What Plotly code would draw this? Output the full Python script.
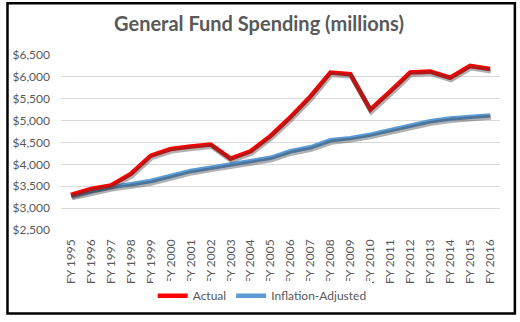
import plotly.graph_objects as go

years = [f"FY {y}" for y in range(1995, 2017)]
actual = [3300, 3440, 3520, 3780, 4200, 4350, 4410, 4455, 4130, 4300, 4650,
          5080, 5550, 6100, 6060, 5250, 5670, 6100, 6120, 5980, 6250, 6180]
inflation = [3280, 3380, 3480, 3545, 3620, 3735, 3850, 3925, 4000, 4070, 4150,
             4300, 4390, 4550, 4600, 4680, 4780, 4900, 4985, 5050, 5075, 5120]
y_ticks = [2500, 3000, 3500, 4000, 4500, 5000, 5500, 6000, 6500]
y_labels = [f"${v:,}" for v in y_ticks]

W, H = 520, 322
L, R, T, B = 57, 20, 55, 91
pw, ph = W - L - R, H - T - B
yr = [2500, 6500]
dy = 2 * (yr[1] - yr[0]) / ph      # 2px shadow offset down
dx = 1.0 * len(years) / pw         # 1px shadow offset right

fig = go.Figure()
shadow = dict(color="rgba(60,60,60,0.4)", width=5)
fig.add_trace(go.Scatter(x=years, y=inflation, mode="lines", line=shadow,
                         xaxis="x2", yaxis="y2", showlegend=False, hoverinfo="skip"))
fig.add_trace(go.Scatter(x=years, y=actual, mode="lines", line=shadow,
                         xaxis="x2", yaxis="y2", showlegend=False, hoverinfo="skip"))
fig.add_trace(go.Scatter(x=years, y=inflation, mode="lines", name="Inflation-Adjusted",
                         line=dict(color="#5B9BD5", width=4.5), legendrank=2))
fig.add_trace(go.Scatter(x=years, y=actual, mode="lines", name="Actual",
                         line=dict(color="#FF0000", width=4.5), legendrank=1))

font = dict(family="Lato, Open Sans, sans-serif", color="#595959")
fig.update_layout(
    width=W, height=H, margin=dict(l=L, r=R, t=T, b=B),
    paper_bgcolor="white", plot_bgcolor="white",
    font=dict(**font, size=12),
    title=dict(text="<b>General Fund Spending (millions)</b>", x=259 / W, xanchor="center",
               y=1 - 24 / H, yanchor="middle", xref="container",
               font=dict(family="Lato, Open Sans, sans-serif", size=20, color="#595959")),
    xaxis=dict(type="category", categoryorder="array", categoryarray=years,
               range=[-0.5, len(years) - 0.5], tickangle=-90, showgrid=False,
               showline=False, ticks="", tickfont=dict(size=12), ticklabelstandoff=6),
    xaxis2=dict(type="category", categoryorder="array", categoryarray=years,
                range=[-0.5 - dx, len(years) - 0.5 - dx], overlaying="x",
                visible=False),
    yaxis=dict(range=yr, tickvals=y_ticks, ticktext=y_labels, showgrid=True,
               gridcolor="#D9D9D9", gridwidth=1, zeroline=False, showline=False,
               ticks="", tickfont=dict(size=12), ticklabelstandoff=10),
    yaxis2=dict(range=[yr[0] + dy, yr[1] + dy], overlaying="y", visible=False),
    legend=dict(orientation="h", x=(260 - L) / pw, xanchor="center",
                y=(ph - (297 - T)) / ph, yanchor="middle",
                font=dict(size=12, color="#595959"), traceorder="normal"),
    shapes=[dict(type="rect", xref="paper", yref="paper",
                 x0=(3 - L) / pw, x1=(515 - L) / pw,
                 y0=(ph - (315 - T)) / ph, y1=(ph - (3 - T)) / ph,
                 line=dict(color="black", width=2.5), fillcolor="rgba(0,0,0,0)",
                 layer="above")],
)
fig.write_html("out.html")
